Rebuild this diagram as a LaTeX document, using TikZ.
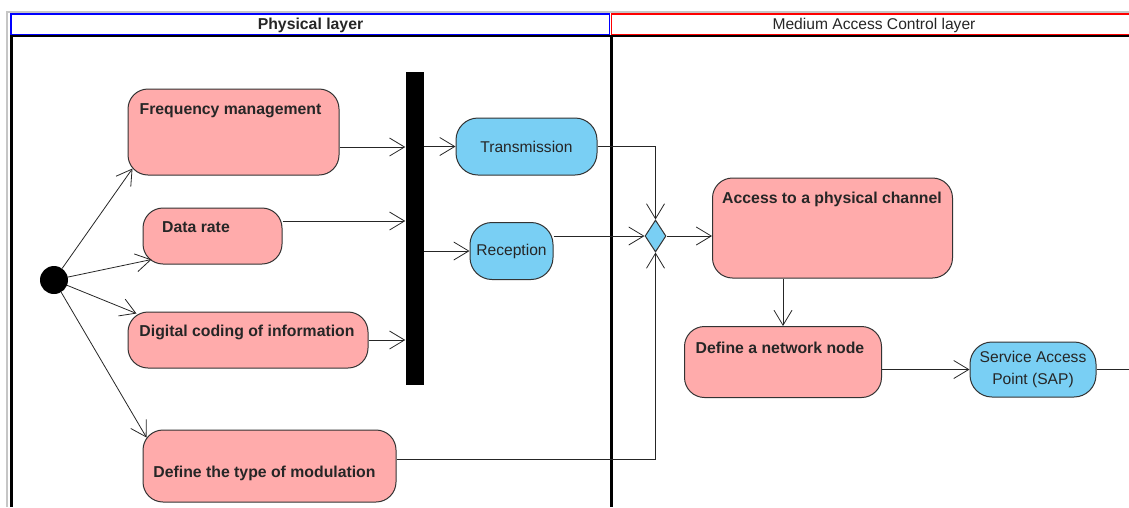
\documentclass[tikz,border=0pt]{standalone}
\usepackage{fontspec}
\setmainfont{Liberation Sans}
\usetikzlibrary{arrows.meta,shapes.geometric}

\definecolor{actpink}{HTML}{FFABAB}
\definecolor{stateblue}{HTML}{79CFF4}
\definecolor{edgegray}{HTML}{333333}

\tikzset{
  action/.style={draw=edgegray, fill=actpink, line width=1pt, rounded corners=20pt, inner sep=0pt},
  actstate/.style={draw=edgegray, fill=stateblue, line width=1pt, rounded corners=22pt, inner sep=0pt,
    font=\fontsize{15.6}{22}\selectfont, text=black!85},
  boldtxt/.style={anchor=base, inner sep=0pt, font=\fontsize{15.8}{17}\selectfont\bfseries, text=black!85},
  plaintxt/.style={anchor=base, inner sep=0pt, font=\fontsize{15.6}{17}\selectfont, text=black!85},
  flow/.style={draw=black!85, line width=0.8pt, -{Straight Barb[length=15pt,width=18pt]}},
}

\begin{document}
\begin{tikzpicture}[x=1pt, y=-1pt]
\useasboundingbox (0,0) rectangle (1129,507);
\clip (0,0) rectangle (1129,507);
% swimlanes
\draw[gray!45, line width=2pt] (7,507) -- (7,12) -- (1129,12);
\draw[blue, line width=1.8pt, fill=white] (11,14) rectangle (609.5,34.5);
\draw[red, line width=1.8pt, fill=white] (611.5,14) rectangle (1140,34.5);
\draw[black, line width=2.4pt] (10,36) -- (1129,36);
\draw[black, line width=2.4pt] (11.5,36) -- (11.5,507);
\draw[black, line width=2.4pt] (611.5,36) -- (611.5,507);
\node[boldtxt] (phys) at (310.5,29.5) {Physical layer};
\node[plaintxt] (mac) at (874,29.5) {Medium Access Control layer};

% physical layer
\node[circle, fill=black, minimum size=28pt, inner sep=0pt] (init) at (54,280) {};
\node[action, minimum width=211pt, minimum height=86pt] (freq) at (233.5,132) {};
\node[boldtxt] (freqtxt) at (230.5,114) {Frequency management};
\node[action, minimum width=139pt, minimum height=56pt] (rate) at (212.5,236) {};
\node[boldtxt] (ratetxt) at (196,232.5) {Data rate};
\node[action, minimum width=240pt, minimum height=56pt] (coding) at (248,340) {};
\node[boldtxt] (codingtxt) at (247,336.5) {Digital coding of information};
\node[action, minimum width=253pt, minimum height=72pt] (modul) at (269.5,466) {};
\node[boldtxt] (modultxt) at (264.5,477) {Define the type of modulation};
\node[fill=black, inner sep=0pt, minimum width=18pt, minimum height=313pt] (fork) at (414.5,228.5) {};
\node[actstate, minimum width=141pt, minimum height=57pt] (trans) at (526.5,146.5) {Transmission};
\node[actstate, minimum width=83pt, minimum height=57pt] (recep) at (511.5,251) {Reception};

% medium access control layer
\node[diamond, draw=edgegray, fill=stateblue, line width=1pt, inner sep=0pt,
  minimum width=21pt, minimum height=32pt] (merge) at (655.5,236) {};
\node[action, minimum width=240pt, minimum height=100pt] (access) at (832.5,228) {};
\node[boldtxt] (accesstxt) at (832,203) {Access to a physical channel};
\node[action, minimum width=197pt, minimum height=71pt] (netnode) at (783,362) {};
\node[boldtxt] (netnodetxt) at (780,353.5) {Define a network node};
\node[actstate, minimum width=126pt, minimum height=55pt, align=center] (sap) at (1033,369.5) {Service Access\\Point (SAP)};
\coordinate (out) at (1129,369.5);

% flows
\draw[flow] (init) -- ([xshift=5pt,yshift=7pt]freq.south west);
\draw[flow] (init) -- ([xshift=9pt,yshift=5pt]rate.south west);
\draw[flow] (init) -- ([xshift=9pt,yshift=-2pt]coding.north west);
\draw[flow] (init) -- ([xshift=4pt,yshift=-8pt]modul.north west);
\draw[flow] ([yshift=-15pt]freq.east) -- ([yshift=-15pt]freq.east -| fork.west);
\draw[flow] ([yshift=15pt]rate.east) -- ([yshift=15pt]rate.east -| fork.west);
\draw[flow] (coding.east) -- (coding.east -| fork.west);
\draw[flow] (trans.west -| fork.east) -- (trans.west);
\draw[flow] (recep.west -| fork.east) -- (recep.west);
\draw[flow] (trans.east) -| (merge.north);
\draw[flow] ([yshift=15pt]recep.east) -- (merge.west);
\draw[flow] ([yshift=7pt]modul.east) -| (merge.south);
\draw[flow] (merge.east) -- (merge.east -| access.west);
\draw[flow] (access.south -| netnode.north) -- (netnode.north);
\draw[flow] (sap.west -| netnode.east) -- (sap.west);
\draw[line width=0.8pt, black!85] (sap.east) -- (out);
\end{tikzpicture}
\end{document}
